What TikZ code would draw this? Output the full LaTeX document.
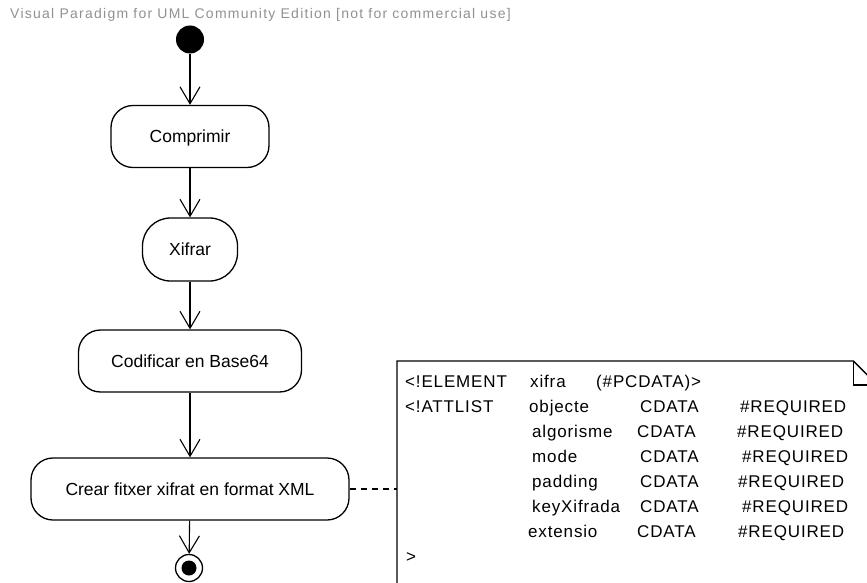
\documentclass[tikz,border=0pt]{standalone}
\usepackage{fontspec}
\setmainfont{Liberation Sans}
\newfontfamily\notefont[LetterSpace=5]{Liberation Sans}
\newfontfamily\markfont[LetterSpace=9]{Liberation Sans}
\usetikzlibrary{arrows.meta,positioning}
\definecolor{vpGray}{RGB}{145,145,145}

\begin{document}
\begin{tikzpicture}[
  x=1pt, y=-1pt,
  font=\fontsize{17.5}{20}\selectfont,
  act/.style={draw, line width=1.3pt, rounded corners=22pt, minimum height=62pt, inner sep=0pt, text height=12.5pt, text depth=0pt},
  flow/.style={-{Straight Barb[length=17pt,width=20pt]}, line width=1.1pt},
  txt/.style={anchor=base west, inner sep=0pt, font=\notefont\fontsize{17}{20}\selectfont},
]
\useasboundingbox (0,0) rectangle (867,583);
\clip (0,0) rectangle (867,583);
% watermark
\node[anchor=base west, inner sep=0pt, text=vpGray, font=\markfont\fontsize{14}{16}\selectfont] (mark) at (10,19)
  {Visual Paradigm for UML Community Edition [not for commercial use]};
% activities
\node[circle, fill=black, minimum size=28pt, inner sep=0pt] (start) at (190,39.5) {};
\node[act, minimum width=158pt] (comp) at (190,136.5) {Comprimir};
\node[act, minimum width=95pt, minimum height=63pt, rounded corners=28pt] (xif) at (190,249.5) {Xifrar};
\node[act, minimum width=223pt] (cod) at (190,361) {Codificar en Base64};
\node[act, minimum width=318pt] (crear) at (190,489) {Crear fitxer xifrat en format XML};
\node[circle, draw, line width=1.3pt, fill=white, minimum size=27pt, inner sep=0pt] (end) at (189,568) {};
\node[circle, fill=black, minimum size=15pt, inner sep=0pt] (endin) at (end) {};
% control flow
\draw[flow] (start) -- (comp);
\draw[flow] (comp) -- (xif);
\draw[flow] (xif) -- (cod);
\draw[flow] (cod) -- (crear);
\draw[flow] (crear) -- (end);
% note with the DTD
\node[minimum width=480pt, minimum height=240pt, inner sep=0pt, anchor=north west] (note) at (397,361) {};
\draw[line width=1.3pt] (note.south west) -- (note.north west) -- ([xshift=-24pt]note.north east)
  -- ([yshift=-24pt]note.north east) -- (note.south east);
\draw[line width=1.3pt] ([xshift=-24pt]note.north east) |- ([yshift=-24pt]note.north east);
\draw[line width=1.1pt, dash pattern=on 6pt off 5pt] (crear.east) -- (crear.east -| note.west);
\node[txt] (elem) at (405,387) {<!ELEMENT};
\node[txt] (elemname) at (530,387) {xifra};
\node[txt] (elemtype) at (596,387) {(\#PCDATA)>};
\node[txt] (attl) at (405,412) {<!ATTLIST};
\foreach \attr/\ax/\cx/\rx [count=\i] in {objecte/529/640/740, algorisme/532/637/737,
    mode/532/640/742, padding/532/640/738, keyXifrada/532/640/742, extensio/528/637/738} {
  \node[txt] (attr\i) at (\ax,387+25*\i) {\attr};
  \node[txt] (cdata\i) at (\cx,387+25*\i) {CDATA};
  \node[txt] (req\i) at (\rx,387+25*\i) {\#REQUIRED};
}
\node[txt] (close) at (406,562) {>};
\end{tikzpicture}
\end{document}
